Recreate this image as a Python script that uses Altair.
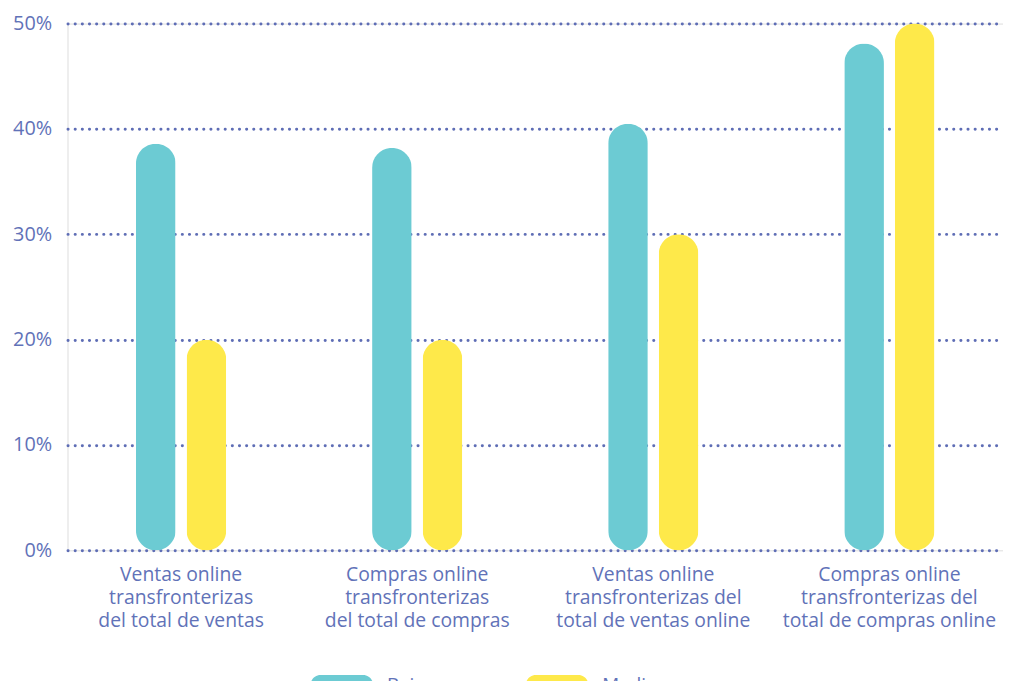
import altair as alt
import pandas as pd

# ---- data ----
categories = [
    "Ventas online|transfronterizas|del total de ventas",
    "Compras online|transfronterizas|del total de compras",
    "Ventas online|transfronterizas del|total de ventas online",
    "Compras online|transfronterizas del|total de compras online",
]
series = ["Bajo", "Medio"]
bajo = [0.386, 0.382, 0.405, 0.481]
medio = [0.200, 0.200, 0.300, 0.500]
y_ticks = [0.0, 0.1, 0.2, 0.3, 0.4, 0.5]

colors = ["#6ccbd3", "#fee94a"]
text_color = "#6172b8"
grid_color = "#5e6db5"
font = "Open Sans"

rows = []
for i, c in enumerate(categories):
    rows.append({"cat": c, "serie": series[0], "valor": bajo[i]})
    rows.append({"cat": c, "serie": series[1], "valor": medio[i]})
df = pd.DataFrame(rows)

stadium = ("M-0.68,-0.32 L0.68,-0.32 A0.32,0.32 0 0 1 0.68,0.32 "
           "L-0.68,0.32 A0.32,0.32 0 0 1 -0.68,-0.32 Z")

chart = alt.Chart(df).mark_bar(cornerRadius=20, size=40).encode(
    x=alt.X("cat:N", sort=categories, title=None,
            scale=alt.Scale(paddingInner=0.5714, paddingOuter=0.2668),
            axis=alt.Axis(labelAngle=0, domain=False, ticks=False, grid=False,
                          labelExpr="split(datum.label, '|')",
                          labelLineHeight=23.5, labelPadding=15,
                          labelBaseline="top", labelFontSize=19.5,
                          labelColor=text_color, labelFont=font,
                          labelLimit=400)),
    xOffset=alt.XOffset("serie:N", sort=series,
                        scale=alt.Scale(paddingInner=0, paddingOuter=0)),
    y=alt.Y("valor:Q", title=None,
            scale=alt.Scale(domain=[0, 0.5], nice=False),
            axis=alt.Axis(values=y_ticks, format=".0%", domain=False, ticks=False,
                          grid=True, gridDash=[0.1, 7.1], gridCap="round",
                          gridWidth=3, gridColor=grid_color,
                          labelPadding=16, labelFontSize=20,
                          labelColor=text_color, labelFont=font)),
    color=alt.Color("serie:N", sort=series,
                    scale=alt.Scale(domain=series, range=colors),
                    legend=alt.Legend(orient="none", legendX=245, legendY=635,
                                      direction="horizontal", title=None,
                                      symbolType=stadium, symbolSize=3969,
                                      symbolStrokeWidth=0, symbolOpacity=1,
                                      labelFontSize=19, labelColor=text_color,
                                      labelFont=font, labelOffset=14,
                                      columnPadding=100, padding=0)),
).properties(
    width=943,
    height=531,
    autosize=alt.AutoSizeParams(type="none"),
    padding={"left": 60, "top": 13, "right": 0, "bottom": 129},
).configure_view(strokeWidth=0, stroke="transparent").configure(font=font).configure_axis(
    domain=False
).configure_axisX(grid=False)

chart.save("out.html", embed_options={"renderer": "svg", "actions": False})
